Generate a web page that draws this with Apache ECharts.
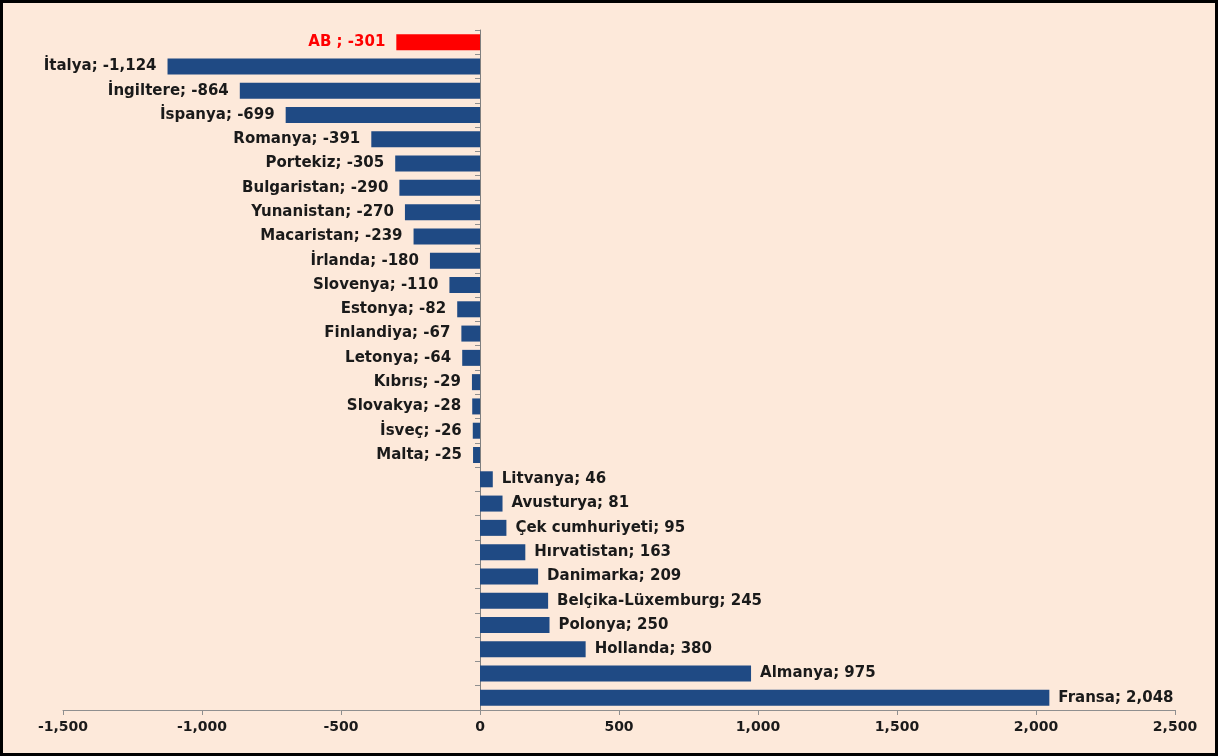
<!DOCTYPE html>
<html>
<head>
<meta charset="utf-8">
<script src="https://cdn.jsdelivr.net/npm/echarts@6/dist/echarts.min.js"></script>
<style>
  html, body { margin: 0; padding: 0; background: #fff; }
  #chart {
    position: absolute; left: 0; top: 0;
    width: 1212px; height: 750px;
    border: 3px solid #000;
    background: #fde9da;
  }
</style>
</head>
<body>
<div id="chart"></div>
<script>
// countries, top to bottom
var countries = [
  "AB ", "İtalya", "İngiltere", "İspanya", "Romanya", "Portekiz", "Bulgaristan",
  "Yunanistan", "Macaristan", "İrlanda", "Slovenya", "Estonya", "Finlandiya",
  "Letonya", "Kıbrıs", "Slovakya", "İsveç", "Malta", "Litvanya", "Avusturya",
  "Çek cumhuriyeti", "Hırvatistan", "Danimarka", "Belçika-Lüxemburg", "Polonya",
  "Hollanda", "Almanya", "Fransa"
];
var values = [
  -301, -1124, -864, -699, -391, -305, -290, -270, -239, -180, -110, -82, -67,
  -64, -29, -28, -26, -25, 46, 81, 95, 163, 209, 245, 250, 380, 975, 2048
];
var xTicks = [-1500, -1000, -500, 0, 500, 1000, 1500, 2000, 2500];

var myChart = echarts.init(document.getElementById("chart"));

var FONT = "DejaVu Sans";

function fmt(v) {
  return v.toLocaleString("en-US");
}

var barData = values.map(function (v, i) {
  var isTotal = i === 0;
  return {
    value: v,
    itemStyle: { color: isTotal ? "#ff0000" : "#1f4a84" },
    label: {
      show: true,
      position: v < 0 ? "left" : "right",
      distance: v < 0 ? 11 : 9,
      color: isTotal ? "#ff0000" : "#1a1a1a",
      formatter: countries[i] + "; " + fmt(v)
    }
  };
});

myChart.setOption({
  animation: false,
  textStyle: { fontFamily: FONT },
  grid: { left: 60, right: 40, top: 27, bottom: 43 },
  xAxis: {
    type: "value",
    min: xTicks[0],
    max: xTicks[xTicks.length - 1],
    interval: 500,
    splitLine: { show: false },
    axisLine: { show: true, lineStyle: { color: "#8f8f8f", width: 1 } },
    axisTick: { show: true, length: 5, lineStyle: { color: "#8f8f8f" } },
    axisLabel: {
      margin: 10,
      fontSize: 14,
      fontWeight: "bold",
      fontFamily: FONT,
      color: "#1a1a1a",
      formatter: function (v) { return fmt(v); }
    }
  },
  yAxis: {
    type: "category",
    inverse: true,
    data: countries,
    axisLine: { show: true, onZero: true, lineStyle: { color: "#7f7f7f", width: 1 } },
    axisTick: { show: true, length: 5, lineStyle: { color: "#8f8f8f" } },
    axisLabel: { show: false }
  },
  series: [{
    type: "bar",
    barWidth: 16,
    data: barData,
    label: {
      fontSize: 15,
      fontWeight: "bold",
      fontFamily: FONT
    }
  }]
});
</script>
</body>
</html>
